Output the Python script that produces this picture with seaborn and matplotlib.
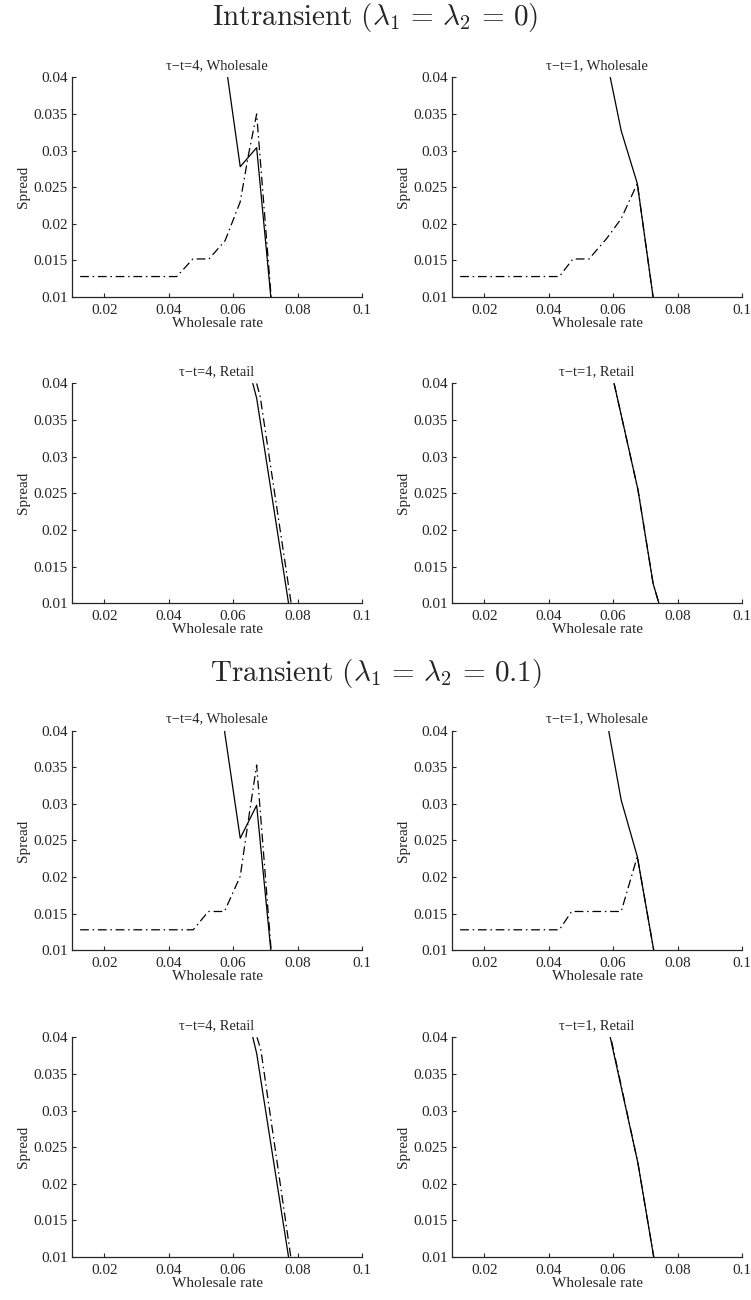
import numpy as np
import pandas as pd
import seaborn as sns
import matplotlib.pyplot as plt

x_ticks = [0.02, 0.04, 0.06, 0.08, 0.1]
x_tick_labels = ['0.02', '0.04', '0.06', '0.08', '0.1']
y_ticks = [0.01, 0.015, 0.02, 0.025, 0.03, 0.035, 0.04]
y_tick_labels = ['0.01', '0.015', '0.02', '0.025', '0.03', '0.035', '0.04']

section_titles = [r'$\mathrm{Intransient}\ (\lambda_1 \,=\, \lambda_2 \,=\, 0)$',
                  r'$\mathrm{Transient}\ (\lambda_1 \,=\, \lambda_2 \,=\, 0.1)$']
panel_titles = ['τ−t=4, Wholesale', 'τ−t=1, Wholesale', 'τ−t=4, Retail', 'τ−t=1, Retail']

# Intransient, tau-t=4, wholesale
int4w_solid_x = [0.0583, 0.0622, 0.0673, 0.0717]
int4w_solid_y = [0.040, 0.0278, 0.0304, 0.010]
int4w_dash_x = [0.0125, 0.0425, 0.0475, 0.0525, 0.0575, 0.0622, 0.0647, 0.0673, 0.0718]
int4w_dash_y = [0.0128, 0.0128, 0.0152, 0.0152, 0.0177, 0.0230, 0.0293, 0.0350, 0.010]
# Intransient, tau-t=1, wholesale
int1w_solid_x = [0.0591, 0.0625, 0.0675, 0.0724]
int1w_solid_y = [0.040, 0.0327, 0.0255, 0.010]
int1w_dash_x = [0.0125, 0.0433, 0.0475, 0.0525, 0.0580, 0.0625, 0.0675, 0.0724]
int1w_dash_y = [0.0128, 0.0128, 0.0152, 0.0152, 0.0180, 0.0207, 0.0255, 0.010]
# Intransient, tau-t=4, retail
int4r_solid_x = [0.0661, 0.0673, 0.0772]
int4r_solid_y = [0.040, 0.0380, 0.010]
int4r_dash_x = [0.0673, 0.0684, 0.0780]
int4r_dash_y = [0.040, 0.0382, 0.010]
# Intransient, tau-t=1, retail
int1r_solid_x = [0.0603, 0.0677, 0.0724, 0.0742]
int1r_solid_y = [0.040, 0.0255, 0.0127, 0.010]
int1r_dash_x = [0.0603, 0.0677, 0.0724, 0.0742]
int1r_dash_y = [0.040, 0.0255, 0.0127, 0.010]
# Transient, tau-t=4, wholesale
tr4w_solid_x = [0.0573, 0.0622, 0.0673, 0.0717]
tr4w_solid_y = [0.040, 0.0253, 0.0298, 0.010]
tr4w_dash_x = [0.0125, 0.0476, 0.0523, 0.0573, 0.0622, 0.0648, 0.0673, 0.0718]
tr4w_dash_y = [0.0128, 0.0128, 0.0153, 0.0153, 0.0201, 0.0280, 0.0353, 0.010]
# Transient, tau-t=1, wholesale
tr1w_solid_x = [0.0586, 0.0625, 0.0675, 0.0726]
tr1w_solid_y = [0.040, 0.0305, 0.0228, 0.010]
tr1w_dash_x = [0.0125, 0.0433, 0.0471, 0.0625, 0.0675, 0.0726]
tr1w_dash_y = [0.0128, 0.0128, 0.0153, 0.0153, 0.0228, 0.010]
# Transient, tau-t=4, retail
tr4r_solid_x = [0.0661, 0.0673, 0.0772]
tr4r_solid_y = [0.040, 0.0378, 0.010]
tr4r_dash_x = [0.0674, 0.0686, 0.0779]
tr4r_dash_y = [0.040, 0.0383, 0.010]
# Transient, tau-t=1, retail
tr1r_solid_x = [0.0591, 0.0677, 0.0726]
tr1r_solid_y = [0.040, 0.0228, 0.010]
tr1r_dash_x = [0.0595, 0.0677, 0.0726]
tr1r_dash_y = [0.0395, 0.0228, 0.010]

panels = [
    (int4w_solid_x, int4w_solid_y, int4w_dash_x, int4w_dash_y),
    (int1w_solid_x, int1w_solid_y, int1w_dash_x, int1w_dash_y),
    (int4r_solid_x, int4r_solid_y, int4r_dash_x, int4r_dash_y),
    (int1r_solid_x, int1r_solid_y, int1r_dash_x, int1r_dash_y),
    (tr4w_solid_x, tr4w_solid_y, tr4w_dash_x, tr4w_dash_y),
    (tr1w_solid_x, tr1w_solid_y, tr1w_dash_x, tr1w_dash_y),
    (tr4r_solid_x, tr4r_solid_y, tr4r_dash_x, tr4r_dash_y),
    (tr1r_solid_x, tr1r_solid_y, tr1r_dash_x, tr1r_dash_y),
]

sns.set_style('ticks')
plt.rcParams['font.family'] = ['Liberation Serif', 'DejaVu Serif']
plt.rcParams['mathtext.fontset'] = 'cm'
plt.rcParams['xtick.direction'] = 'in'
plt.rcParams['ytick.direction'] = 'in'

fig = plt.figure(figsize=(7.51, 13.0), dpi=100)

lefts = [0.096, 0.602]
bottoms = [0.7715, 0.536, 0.269, 0.0331]
w, h = 0.386, 0.169

for i, (sx, sy, dx, dy) in enumerate(panels):
    row, col = divmod(i, 2)
    ax = fig.add_axes([lefts[col], bottoms[row], w, h])
    sns.lineplot(x=dx, y=dy, ax=ax, sort=False, estimator=None, color='black',
                 lw=0.9, linestyle=(0, (7, 3, 1.2, 3)))
    sns.lineplot(x=sx, y=sy, ax=ax, sort=False, estimator=None, color='black', lw=0.9)
    ax.set_xlim(0.01, 0.1)
    ax.set_ylim(0.01, 0.04)
    ax.set_xticks(x_ticks)
    ax.set_xticklabels(x_tick_labels, fontsize=11)
    ax.set_yticks(y_ticks)
    ax.set_yticklabels(y_tick_labels, fontsize=11)
    ax.tick_params(axis='x', length=3, width=0.8, pad=5)
    ax.tick_params(axis='y', length=3, width=0.8, pad=3)
    ax.set_title(panel_titles[i % 4], fontsize=10.5, pad=6)
    ax.set_xlabel('Wholesale rate', fontsize=11, labelpad=0)
    ax.set_ylabel('Spread', fontsize=11, labelpad=3)
    sns.despine(ax=ax)
    for s in ['left', 'bottom']:
        ax.spines[s].set_linewidth(0.9)

fig.text(0.5, 1 - 18 / 1300, section_titles[0], ha='center', va='center', fontsize=21)
fig.text(0.5, 1 - 673 / 1300, section_titles[1], ha='center', va='center', fontsize=21)

fig.savefig('out.png', dpi=100)
